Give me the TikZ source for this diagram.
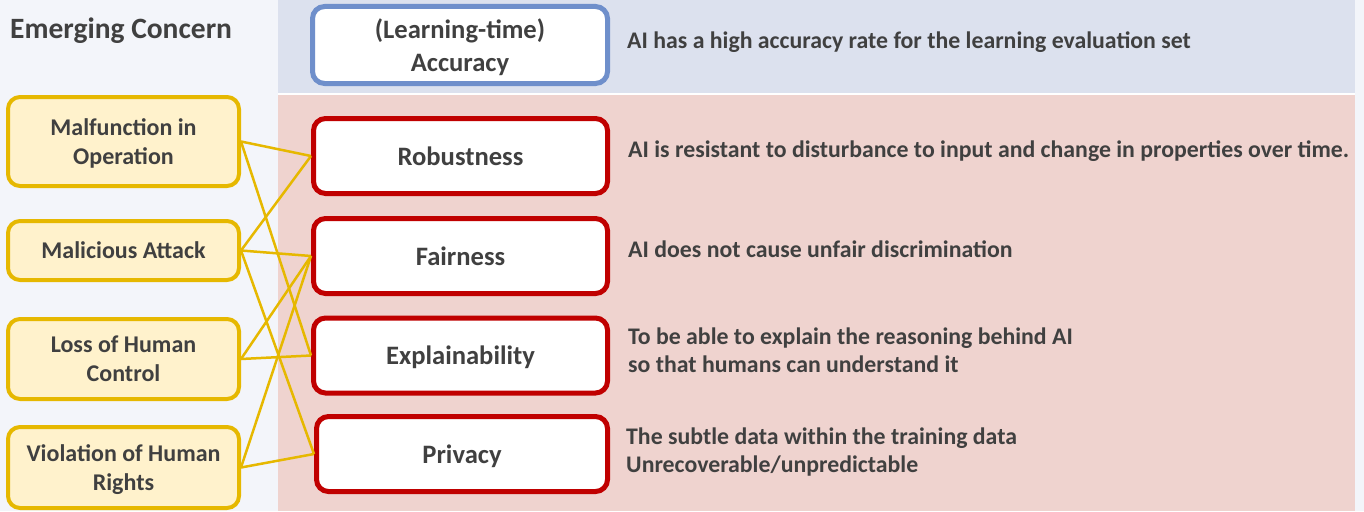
\documentclass[tikz,border=0pt]{standalone}
\usepackage{fontspec}
\setmainfont{Carlito}
\definecolor{txt}{HTML}{404040}
\definecolor{leftbg}{HTML}{F3F5FA}
\definecolor{bluebg}{HTML}{DCE1EE}
\definecolor{pinkbg}{HTML}{EFD3CF}
\definecolor{yfill}{HTML}{FFF2CC}
\definecolor{yline}{HTML}{E6B800}
\definecolor{rline}{HTML}{C00000}
\definecolor{bline}{HTML}{6F8FCB}
\tikzset{
  concern/.style={draw=yline, fill=yfill, line width=4pt, rounded corners=12pt,
    minimum width=231pt, align=center, text=txt, inner sep=0pt, text depth=0pt,
    font=\fontsize{24}{29}\selectfont\bfseries},
  prop/.style={draw=rline, fill=white, line width=5pt, rounded corners=12pt,
    minimum width=294pt, minimum height=75pt, align=center, text=txt, inner sep=0pt,
    text depth=0pt, font=\fontsize{26.6}{32.5}\selectfont\bfseries},
  desc/.style={anchor=west, align=left, text=txt, inner sep=0pt,
    font=\fontsize{23.8}{28}\selectfont\bfseries},
  link/.style={draw=yline, line width=2.5pt},
}
\begin{document}
\begin{tikzpicture}[x=1pt,y=-1pt]
\useasboundingbox (0,0) rectangle (1364,511);
% backgrounds
\fill[leftbg] (0,0) rectangle (278,511);
\fill[bluebg] (278,0) rectangle (1355,93);
\fill[pinkbg] (278,95) rectangle (1355,511);
\fill[leftbg] (1355,0) rectangle (1364,511);
% title
\node[anchor=west, text=txt, inner sep=0pt, font=\fontsize{29.5}{32}\selectfont\bfseries] (title) at (10,31) {Emerging Concern};
% concern boxes
\node[concern, minimum height=89pt] (mal) at (123.5,141.5) {Malfunction in\\Operation};
\node[concern, minimum height=59pt] (atk) at (123.5,250.5) {Malicious Attack};
\node[concern, minimum height=80pt] (loss) at (123.5,359) {Loss of Human\\Control};
\node[concern, minimum height=81pt] (vio) at (123.5,467.5) {Violation of Human\\Rights};
% property boxes
\node[prop, draw=bline, minimum width=295pt, minimum height=77pt] (acc) at (460,45) {(Learning-time)\\Accuracy};
\node[prop] (rob) at (460.5,156) {Robustness};
\node[prop] (fair) at (460.5,256) {Fairness};
\node[prop] (expl) at (460.5,355.5) {Explainability};
\node[prop, minimum width=291pt] (priv) at (462,454) {Privacy};
% descriptions
\node[desc] (dacc) at (627,42) {AI has a high accuracy rate for the learning evaluation set};
\node[desc] (drob) at (628,151) {AI is resistant to disturbance to input and change in properties over time.};
\node[desc] (dfair) at (628,249) {AI does not cause unfair discrimination};
\node[desc] (dexpl) at (628,350) {To be able to explain the reasoning behind AI\\so that humans can understand it};
\node[desc] (dpriv) at (626,452) {The subtle data within the training data\\Unrecoverable/unpredictable};
% links
\draw[link] (mal.east) -- (rob.west);
\draw[link] (mal.east) -- (expl.west);
\draw[link] (atk.east) -- (rob.west);
\draw[link] (atk.east) -- (fair.west);
\draw[link] (atk.east) -- (priv.west);
\draw[link] (loss.east) -- (fair.west);
\draw[link] (loss.east) -- (expl.west);
\draw[link] (vio.east) -- (fair.west);
\draw[link] (vio.east) -- (priv.west);
\end{tikzpicture}
\end{document}
